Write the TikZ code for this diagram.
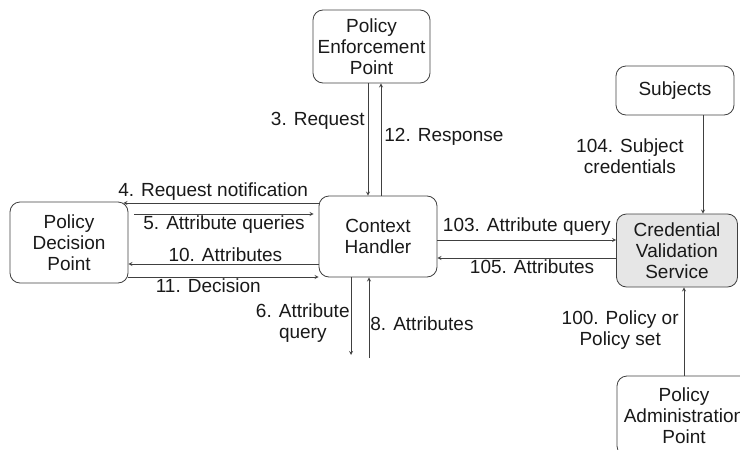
\documentclass[tikz,border=0pt]{standalone}
\usepackage{fontspec}
\setmainfont{Liberation Sans}
\usepackage{tikz}
\usetikzlibrary{shapes.geometric, arrows}
\usetikzlibrary{positioning}
\definecolor{linegray}{RGB}{64,64,64}
\definecolor{boxfill}{RGB}{230,230,230}
\tikzstyle{box} = [rectangle, rounded corners=10pt, draw=linegray, line width=0.8pt, align=center, inner sep=0pt, text=black!90]
\tikzstyle{arrow} = [line width=0.8pt, draw=linegray, ->, >=stealth]
\tikzstyle{lbl} = [text=black!90, align=center, inner sep=3pt]

\begin{document}
\begin{tikzpicture}[x=1pt, y=-1pt, font=\fontsize{19}{21}\selectfont]
\clip (0,0) rectangle (740,450);
\useasboundingbox (0,0) rectangle (740,450);
% boxes
\node (pep) [box, minimum width=117pt, minimum height=73pt] at (371.5,46.5) {Policy\\Enforcement\\Point};
\node (pdp) [box, minimum width=118pt, minimum height=81pt] at (69,242.5) {Policy\\Decision\\Point};
\node (ch) [box, minimum width=118pt, minimum height=81pt] at (378,236.5) {Context\\Handler};
\node (cvs) [box, fill=boxfill, minimum width=121pt, minimum height=73pt] at (677,250.5) {Credential\\Validation\\Service};
\node (subj) [box, minimum width=118pt, minimum height=49pt] at (675,90.5) {Subjects};
\node (pap) [box, minimum width=134pt, minimum height=80pt] at (684,416) {Policy\\Administration\\Point};
\coordinate (q6) at (351,355);
\coordinate (a8) at (369,358);
% PEP <-> context handler
\draw [arrow] ([xshift=-3.5pt]pep.south) -- ([xshift=-3.5pt]pep.south |- ch.north) node [lbl, pos=0.33, left] {3. Request};
\draw [arrow] ([xshift=3pt]ch.north) -- ([xshift=3pt]ch.north |- pep.south) node [lbl, pos=0.52, right] {12. Response};
% PDP <-> context handler
\draw [arrow] ([yshift=33.5pt]ch.west) -- ([yshift=33.5pt, xshift=-5pt]ch.west -| pdp.east) node [lbl, pos=0.54, above, inner sep=2pt] {4. Request notification};
\draw [arrow] ([yshift=22.5pt, xshift=6pt]ch.west -| pdp.east) -- ([yshift=22.5pt, xshift=-5pt]ch.west) node [lbl, midway, below, inner sep=1pt] {5. Attribute queries};
\draw [arrow] ([yshift=-27.5pt]ch.west) -- ([yshift=-27.5pt]ch.west -| pdp.east) node [lbl, pos=0.49, above, inner sep=2pt] {10. Attributes};
\draw [arrow] ([yshift=-40.5pt]ch.west -| pdp.east) -- ([yshift=-40.5pt]ch.west) node [lbl, pos=0.42, below, inner sep=1pt] {11. Decision};
% context handler <-> CVS
\draw [arrow] ([yshift=-3.5pt]ch.east) -- ([yshift=-3.5pt]ch.east -| cvs.west) node [lbl, midway, above, inner sep=4pt] {103. Attribute query};
\draw [arrow] ([yshift=-21.5pt]ch.east -| cvs.west) -- ([yshift=-21.5pt]ch.east) node [lbl, pos=0.47, below, inner sep=1pt] {105. Attributes};
% attribute queries below
\draw [arrow] (ch.south -| q6) -- (q6) node [lbl, pos=0.59, left, inner sep=1pt] {6. Attribute\\query};
\draw [arrow] (a8) -- (a8 |- ch.south) node [lbl, pos=0.43, right, inner sep=1pt] {8. Attributes};
% subjects and PAP
\draw [arrow] ([xshift=28pt]subj.south) -- ([xshift=28pt]subj.south |- cvs.north) node [lbl, pos=0.42, left, xshift=-16pt] {104. Subject\\credentials};
\draw [arrow] (pap.north) -- (pap.north |- cvs.south) node [lbl, pos=0.52, left, inner sep=5pt] {100. Policy or\\Policy set};
\end{tikzpicture}
\end{document}
